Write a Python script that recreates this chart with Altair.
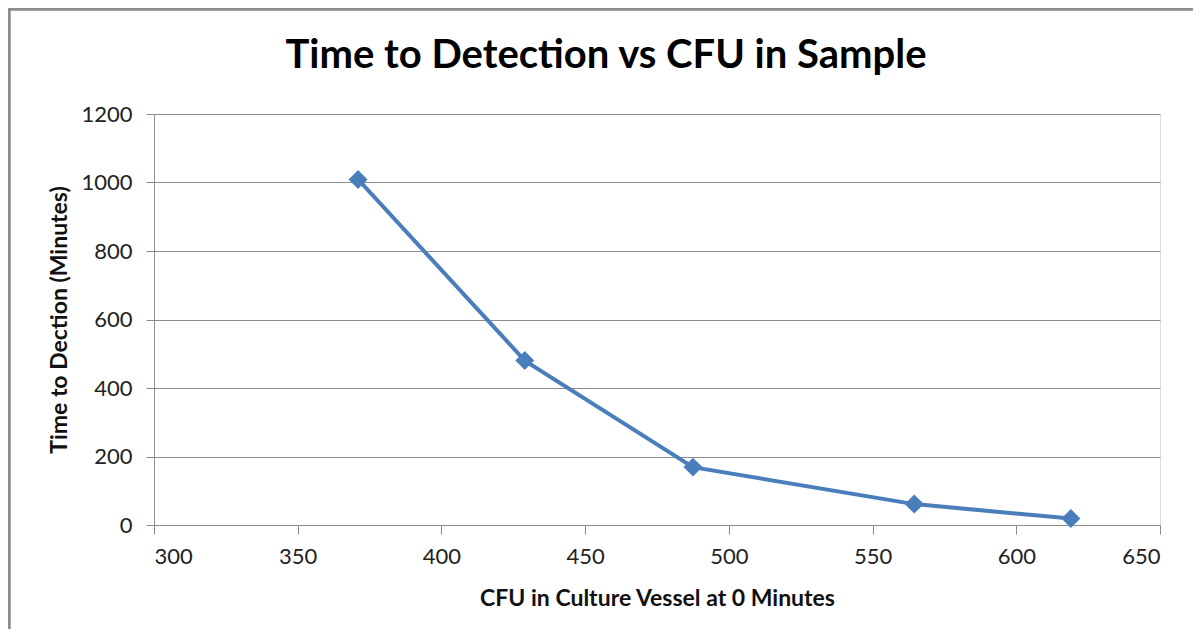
import altair as alt
import pandas as pd

cfu = [371, 429, 487.5, 564.5, 619]
ttd = [1009, 480, 169, 61, 19]
chart_title = ["Time to Detection vs CFU in Sample"]

df = pd.DataFrame({"cfu": cfu, "ttd": ttd})
tdf = pd.DataFrame({"t": chart_title})

FONT = "Lato"
GRAY = "#8c8c8c"
BLUE = "#4a7ebb"

x = alt.X("cfu:Q", scale=alt.Scale(domain=[300, 650], nice=False, zero=False),
          axis=alt.Axis(values=[300, 350, 400, 450, 500, 550, 600, 650], format="d",
                        title="CFU in Culture Vessel at 0 Minutes", grid=False,
                        tickSize=9, tickColor=GRAY, domainColor=GRAY,
                        labelFontSize=22, labelFont=FONT, labelColor="#222",
                        labelPadding=12, titleFontSize=23, titleFont=FONT,
                        titleFontWeight="bold", titleColor="#111", titlePadding=20))
y = alt.Y("ttd:Q", scale=alt.Scale(domain=[0, 1200], nice=False),
          axis=alt.Axis(values=[0, 200, 400, 600, 800, 1000, 1200], format="d",
                        title="Time to Dection (Minutes)", grid=True,
                        gridColor=GRAY, gridWidth=1, tickSize=8, tickColor=GRAY,
                        domainColor=GRAY, labelFontSize=22, labelFont=FONT,
                        labelColor="#222", labelPadding=14, titleFontSize=23,
                        titleFont=FONT, titleFontWeight="bold", titleColor="#111",
                        titlePadding=9))

line = alt.Chart(df).mark_line(color=BLUE, strokeWidth=4).encode(x=x, y=y)
pts = alt.Chart(df).mark_point(shape="diamond", filled=True, color=BLUE,
                               size=360, opacity=1).encode(x="cfu:Q", y="ttd:Q")

frame_v = alt.Chart(df).mark_rule(color=GRAY, strokeWidth=2.5).encode(
    x=alt.value(-145), x2=alt.value(-145), y=alt.value(-106), y2=alt.value(540))
frame_h = alt.Chart(df).mark_rule(color=GRAY, strokeWidth=2.5).encode(
    x=alt.value(-146), x2=alt.value(1060), y=alt.value(-105), y2=alt.value(-105))

title = alt.Chart(tdf).mark_text(font=FONT, fontSize=40, fontWeight="bold",
                                 color="#000", align="center",
                                 baseline="alphabetic").encode(
    text="t:N", x=alt.value(452), y=alt.value(-46))

chart = alt.layer(frame_v, frame_h, line, pts, title).properties(
    width=1006, height=411,
    autosize=alt.AutoSizeParams(type="none"),
    padding={"left": 146, "top": 106, "right": 33, "bottom": 104},
).configure_view(stroke=None).configure(background="white")

chart.save("out.html", embed_options={"renderer": "svg", "actions": False})
